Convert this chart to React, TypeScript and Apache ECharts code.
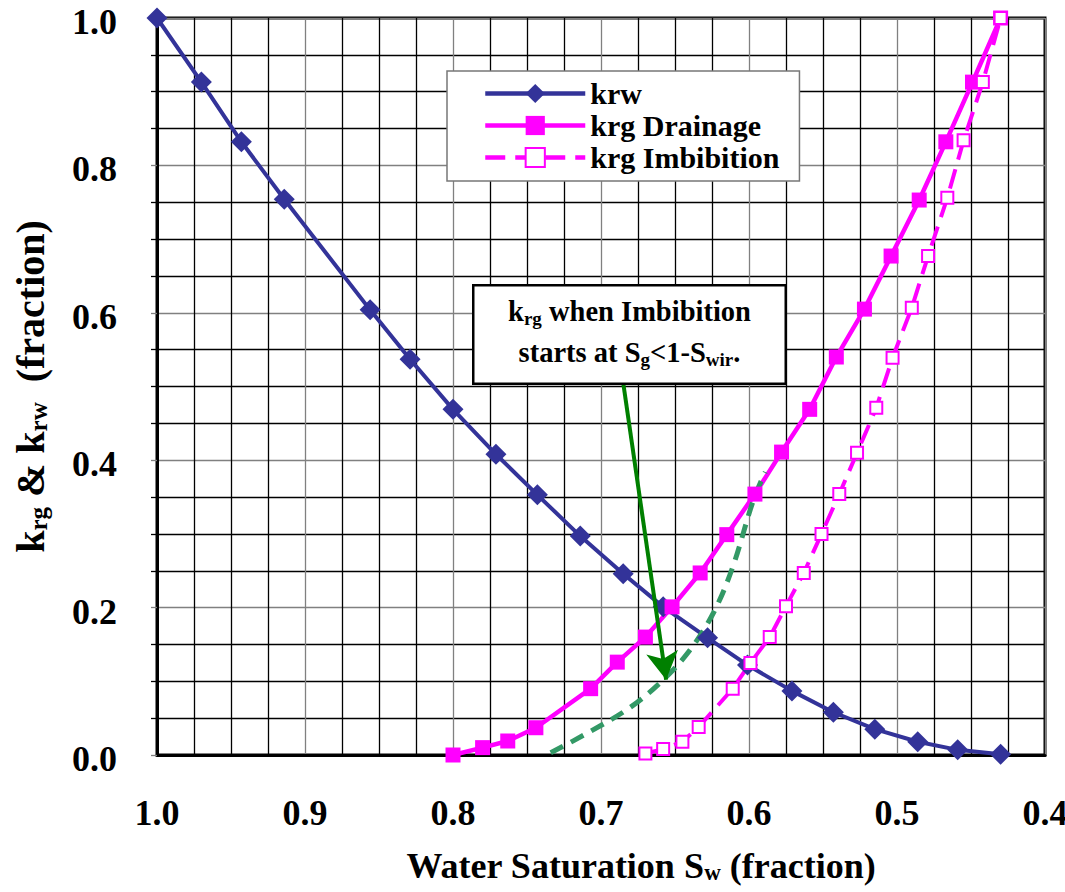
import React, { useEffect, useRef } from 'react';
import * as echarts from 'echarts';

// ---- data ----
const krwSw = [1.0, 0.970, 0.943, 0.914, 0.856, 0.829, 0.800, 0.771, 0.743, 0.714, 0.685, 0.658, 0.628, 0.601, 0.571, 0.543, 0.515, 0.486, 0.459, 0.430];
const krw = [1.0, 0.913, 0.832, 0.754, 0.604, 0.537, 0.469, 0.408, 0.353, 0.297, 0.246, 0.201, 0.159, 0.122, 0.087, 0.058, 0.035, 0.018, 0.007, 0.001];

const drainSw = [0.800, 0.780, 0.763, 0.744, 0.707, 0.689, 0.670, 0.652, 0.633, 0.615, 0.596, 0.578, 0.559, 0.541, 0.522, 0.504, 0.485, 0.467, 0.449, 0.430];
const drainKrg = [0.000, 0.010, 0.019, 0.037, 0.090, 0.126, 0.160, 0.201, 0.247, 0.299, 0.354, 0.411, 0.469, 0.540, 0.605, 0.677, 0.753, 0.832, 0.913, 1.000];

const imbSw = [0.670, 0.658, 0.645, 0.634, 0.611, 0.599, 0.586, 0.575, 0.563, 0.551, 0.539, 0.527, 0.514, 0.503, 0.490, 0.479, 0.466, 0.455, 0.442, 0.430];
const imbKrg = [0.002, 0.008, 0.018, 0.038, 0.090, 0.125, 0.160, 0.202, 0.247, 0.300, 0.354, 0.410, 0.471, 0.539, 0.607, 0.677, 0.756, 0.834, 0.913, 1.000];

const greenSw = [0.734, 0.709, 0.680, 0.658, 0.640, 0.624, 0.611, 0.597, 0.589];
const greenKrg = [0.003, 0.030, 0.065, 0.102, 0.142, 0.193, 0.255, 0.346, 0.384];

const arrowFrom = [0.685, 0.505];
const arrowTo = [0.656, 0.102];

const xTicks = { min: 0.4, max: 1.0, step: 0.1 };
const yTicks = { min: 0, max: 1.0, step: 0.2 };

const seriesNames = ['krw', 'krg Drainage', 'krg Imbibition'];

const FONT = 'Liberation Serif';
const zip = (a: number[], b: number[]) => a.map((v, i) => [v, b[i]]);

export default function App() {
  const ref = useRef<HTMLDivElement>(null);
  useEffect(() => {
    const chart = echarts.init(ref.current!, null, { renderer: 'svg' });
    const bold = { fontFamily: FONT, fontWeight: 'bold' as const, color: '#000' };
    const tm = { ...bold, align: 'center' as const };
    const option: any = {
      animation: false,
      backgroundColor: '#fff',
      grid: {
        left: 157, right: 20, top: 18, bottom: 137,
        outerBoundsMode: 'none',
        show: true, borderColor: '#000', borderWidth: 3, backgroundColor: 'transparent',
      },
      xAxis: {
        type: 'value', inverse: true,
        min: xTicks.min, max: xTicks.max, interval: xTicks.step,
        axisLine: { show: true, lineStyle: { color: '#000', width: 3 } },
        axisTick: { show: false },
        minorTick: { show: false, splitNumber: 4 },
        splitLine: { show: true, lineStyle: { color: '#808080', width: 1.3 } },
        minorSplitLine: { show: true, lineStyle: { color: '#000', width: 1.3 } },
        axisLabel: { ...bold, fontSize: 36, margin: 40, formatter: (v: number) => v.toFixed(1) },
        name: '{m|Water Saturation S}{s|w}{m| (fraction)}',
        nameLocation: 'middle', nameGap: 92,
        nameTextStyle: {
          ...bold,
          fontSize: 36,
          padding: [0, 0, 0, 80],
          rich: {
            m: { ...bold, fontSize: 36 },
            s: { ...bold, fontSize: 23, padding: [14, 0, 0, 0] },
          },
        },
      },
      yAxis: {
        type: 'value',
        min: yTicks.min, max: yTicks.max, interval: yTicks.step,
        axisLine: { show: true, lineStyle: { color: '#000', width: 3 } },
        axisTick: { show: true, length: 6, lineStyle: { color: '#808080', width: 1.3 } },
        minorTick: { show: true, splitNumber: 4, length: 6, lineStyle: { color: '#000', width: 1.3 } },
        splitLine: { show: true, lineStyle: { color: '#808080', width: 1.3 } },
        minorSplitLine: { show: true, lineStyle: { color: '#000', width: 1.3 } },
        axisLabel: {
          ...bold, fontSize: 36, margin: 40,
          formatter: (v: number) => '{a|' + v.toFixed(1) + '}',
          rich: { a: { ...bold, fontSize: 36, lineHeight: 20, padding: [8, 0, 0, 0] } },
        },
        name: '{m|k}{s|rg}{m| & k}{s|rw}{m|  (fraction)}',
        nameLocation: 'middle', nameGap: 106, nameRotate: 90,
        nameTextStyle: {
          ...bold,
          fontSize: 40,
          rich: {
            m: { ...bold, fontSize: 40 },
            s: { ...bold, fontSize: 25, padding: [16, 0, 0, 0] },
          },
        },
      },
      legend: {
        data: seriesNames,
        orient: 'vertical', left: 447, top: 71,
        padding: [7, 20, 8, 36],
        itemWidth: 100, itemHeight: 24, itemGap: 1,
        backgroundColor: '#fff', borderColor: '#777', borderWidth: 1.5,
        textStyle: { ...bold, fontSize: 30, lineHeight: 31 },
        lineStyle: { width: 4.5 },
        selectedMode: false,
        z: 50,
      },
      series: [
        {
          name: seriesNames[0], type: 'line', data: zip(krwSw, krw),
          symbol: 'diamond', symbolSize: 21,
          lineStyle: { color: '#333399', width: 4 },
          itemStyle: { color: '#333399' },
        },
        {
          name: seriesNames[1], type: 'line', data: zip(drainSw, drainKrg),
          symbol: 'rect', symbolSize: 15,
          lineStyle: { color: '#ff00ff', width: 4.5 },
          itemStyle: { color: '#ff00ff' },
        },
        {
          name: seriesNames[2], type: 'line', data: zip(imbSw, imbKrg),
          symbol: 'rect', symbolSize: 12,
          lineStyle: { color: '#ff00ff', width: 4, type: [20, 10] },
          itemStyle: { color: '#ffffff', borderColor: '#ff00ff', borderWidth: 2 },
        },
        {
          name: 'krg imbibition from Sg<1-Swir', type: 'line', data: zip(greenSw, greenKrg),
          smooth: 0.35, showSymbol: false, symbol: 'none',
          lineStyle: { color: '#339966', width: 5, type: [14, 9] },
          z: 3,
          markLine: {
            silent: true,
            symbol: ['none', 'arrow'], symbolSize: [24, 28],
            lineStyle: { color: '#008000', width: 4, type: 'solid' },
            label: { show: false },
            emphasis: { disabled: true },
            data: [[{ coord: arrowFrom }, { coord: arrowTo }]],
          },
        },
      ],
      graphic: [
        {
          type: 'text', left: 472, top: 284, z: 100,
          style: {
            text: '{m|k}{s|rg}{m| when Imbibition}\n{m|starts at S}{s|g}{m|<1-S}{s|wir}{m|.}',
            width: 306, height: 88,
            backgroundColor: '#fff', borderColor: '#000', borderWidth: 2.5,
            padding: [4, 2, 4, 2],
            fontFamily: FONT, fontWeight: 'bold', fontSize: 28,
            rich: {
              m: { ...tm, fontSize: 28.5, lineHeight: 41 },
              s: { ...tm, fontSize: 19, lineHeight: 41, padding: [15, 0, 0, 0] },
            },
          },
        },
      ],
    };
    chart.setOption(option);
    return () => chart.dispose();
  }, []);
  return <div ref={ref} style={{ position: 'absolute', left: 0, top: 0, width: 1065, height: 892, background: '#fff' }} />;
}
